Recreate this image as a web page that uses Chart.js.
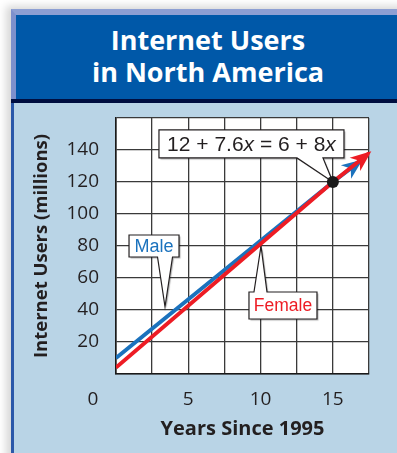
<!DOCTYPE html>
<html>
<head>
<meta charset="utf-8">
<title>Internet Users in North America</title>
<script src="https://cdn.jsdelivr.net/npm/chart.js@4.4.0/dist/chart.umd.min.js"></script>
<style>
  html, body { margin: 0; padding: 0; background: #fff; }
  #page { position: relative; width: 397px; height: 453px; overflow: hidden; background: #fff; }
  #panel { position: absolute; left: 11px; top: 9px; width: 400px; height: 460px;
           box-shadow: -5px -3px 8px rgba(0,0,0,0.16); }
  #head { position: absolute; left: 0; top: 0; width: 400px; height: 90px; box-sizing: border-box;
          background: #0058a8; border-top: 6px solid #8d9fd3; border-left: 5px solid #7e90cc; }
  #rule { position: absolute; left: 0; top: 90px; width: 400px; height: 4px; background: #000e40; }
  #body { position: absolute; left: 0; top: 94px; width: 400px; height: 370px; box-sizing: border-box;
          background: #b9d4e6; border-left: 3px solid #2b58a9; }
  #title { position: absolute; left: 0; top: 24px; width: 416px; text-align: center; color: #fff;
           font: bold 27px/32px "Open Sans", sans-serif; }
  #chart { position: absolute; left: 0; top: 0; }
</style>
</head>
<body>
<div id="page">
  <div id="panel">
    <div id="head"></div>
    <div id="rule"></div>
    <div id="body"></div>
  </div>
  <div id="title">Internet Users<br>in North America</div>
  <canvas id="chart" width="397" height="453"></canvas>
</div>
<script>
// years since 1995 and users (millions) along each line
const maleYears = [0, 15, 16.9];
const maleUsers = [10, 120, 133];
const femaleYears = [0, 15, 17.5];
const femaleUsers = [4, 120, 138];
// where the two lines meet
const meetYears = [15];
const meetUsers = [120];

const xLabelYears = [5, 10, 15];
const yLabelUsers = [20, 40, 60, 80, 100, 120, 140];
const originLabel = '0';

const maleColor = '#1b72bd';
const femaleColor = '#ed1c24';
const ink = '#231f20';
const gridColor = '#3a3a3a';

function points(xs, ys) {
  return xs.map((x, i) => ({ x: x, y: ys[i] }));
}

// callout boxes: centre and tip in data units, sizes in px
const notes = [
  { parts: [['Male', '']], color: maleColor, size: 18,
    at: [2.63, 80], w: 50, h: 22, tip: [3.39, 42], side: 'bottom', baseDx: 11, baseW: 15 },
  { parts: [['Female', '']], color: femaleColor, size: 17.5,
    at: [11.55, 42.8], w: 68, h: 27, tip: [10.03, 80], side: 'top', baseDx: -22.5, baseW: 13 },
  { parts: [['12 + 7.6', ''], ['x', 'italic '], [' = 6 + 8', ''], ['x', 'italic ']], color: ink, size: 21,
    at: [9.37, 143.8], w: 185, h: 28, tip: [15, 120], side: 'bottom', baseDx: 58.5, baseW: 26 }
];

function drawCallout(ctx, n, xs, ys) {
  const cx = xs.getPixelForValue(n.at[0]);
  const cy = ys.getPixelForValue(n.at[1]);
  const tx = xs.getPixelForValue(n.tip[0]);
  const ty = ys.getPixelForValue(n.tip[1]);
  const l = cx - n.w / 2, r = cx + n.w / 2, t = cy - n.h / 2, b = cy + n.h / 2;
  const b0 = cx + n.baseDx - n.baseW / 2, b1 = cx + n.baseDx + n.baseW / 2;
  ctx.save();
  ctx.beginPath();
  if (n.side === 'bottom') {
    ctx.moveTo(l, t); ctx.lineTo(r, t); ctx.lineTo(r, b);
    ctx.lineTo(b1, b); ctx.lineTo(tx, ty); ctx.lineTo(b0, b);
    ctx.lineTo(l, b);
  } else {
    ctx.moveTo(l, t); ctx.lineTo(b0, t); ctx.lineTo(tx, ty); ctx.lineTo(b1, t);
    ctx.lineTo(r, t); ctx.lineTo(r, b); ctx.lineTo(l, b);
  }
  ctx.closePath();
  ctx.shadowColor = 'rgba(0,0,0,0.3)';
  ctx.shadowOffsetX = 1.5;
  ctx.shadowOffsetY = 1.5;
  ctx.shadowBlur = 1;
  ctx.fillStyle = '#fff';
  ctx.fill();
  ctx.shadowColor = 'transparent';
  ctx.strokeStyle = ink;
  ctx.lineWidth = 1.2;
  ctx.stroke();

  ctx.fillStyle = n.color;
  ctx.textBaseline = 'middle';
  ctx.textAlign = 'left';
  const fam = 'px "Liberation Sans", Arial, sans-serif';
  let total = 0;
  n.parts.forEach(p => { ctx.font = p[1] + n.size + fam; total += ctx.measureText(p[0]).width; });
  let x = cx - total / 2;
  n.parts.forEach(p => {
    ctx.font = p[1] + n.size + fam;
    ctx.fillText(p[0], x, cy + 1);
    x += ctx.measureText(p[0]).width;
  });
  ctx.restore();
}

const chartDecor = {
  id: 'chartDecor',
  beforeDraw(chart) {
    const a = chart.chartArea;
    const ctx = chart.ctx;
    ctx.save();
    ctx.fillStyle = '#fff';
    ctx.fillRect(a.left, a.top, a.right - a.left, a.bottom - a.top);
    ctx.restore();
  },
  beforeDatasetsDraw(chart) {
    notes.forEach(n => drawCallout(chart.ctx, n, chart.scales.x, chart.scales.y));
  },
  afterDatasetDraw(chart, args) {
    const ds = chart.data.datasets[args.index];
    if (!ds.arrow) return;
    const pts = args.meta.data;
    const p = pts[pts.length - 1], q = pts[pts.length - 2];
    const ang = Math.atan2(p.y - q.y, p.x - q.x);
    const ctx = chart.ctx;
    ctx.save();
    ctx.translate(p.x, p.y);
    ctx.rotate(ang);
    ctx.fillStyle = ds.borderColor;
    ctx.beginPath();
    ctx.moveTo(3, 0);
    ctx.lineTo(-18, -8.5);
    ctx.lineTo(-12, 0);
    ctx.lineTo(-18, 8.5);
    ctx.closePath();
    ctx.fill();
    ctx.restore();
  },
  afterDraw(chart) {
    const ctx = chart.ctx;
    const xs = chart.scales.x;
    ctx.save();
    ctx.font = tickFont.size + 'px "Open Sans", sans-serif';
    ctx.fillStyle = ink;
    ctx.textAlign = 'center';
    ctx.textBaseline = 'middle';
    ctx.fillText(originLabel, xs.getPixelForValue(0) - 23, chart.chartArea.bottom + 26);
    ctx.restore();
  }
};

const tickFont = { family: '"Open Sans", sans-serif', size: 19 };

new Chart(document.getElementById('chart'), {
  type: 'scatter',
  data: {
    datasets: [
      { label: 'Same', data: points(meetYears, meetUsers), pointRadius: 6,
        backgroundColor: '#1a1a1a', borderWidth: 0, order: 0 },
      { label: 'Female', data: points(femaleYears, femaleUsers), showLine: true, arrow: true,
        borderColor: femaleColor, borderWidth: 4, pointRadius: 0, order: 1 },
      { label: 'Male', data: points(maleYears, maleUsers), showLine: true, arrow: true,
        borderColor: maleColor, borderWidth: 4, pointRadius: 0, order: 2 }
    ]
  },
  options: {
    responsive: false,
    animation: false,
    layout: { padding: { top: 118, right: 28, left: 0, bottom: 0 } },
    plugins: { legend: { display: false }, tooltip: { enabled: false } },
    scales: {
      x: {
        type: 'linear', min: 0, max: 17.5,
        ticks: { stepSize: 2.5, autoSkip: false, maxRotation: 0, padding: 14,
                 font: tickFont, color: ink,
                 callback: v => xLabelYears.includes(v) ? String(v) : '' },
        grid: { color: gridColor, lineWidth: 1.3, drawTicks: false },
        border: { color: '#1a1a1a', width: 1.6 },
        title: { display: true, text: 'Years Since 1995', color: ink,
                 font: { family: '"Open Sans", sans-serif', size: 20, weight: 'bold' },
                 padding: { top: 0, bottom: 12 } },
        afterFit(scale) { scale.height = 79; }
      },
      y: {
        type: 'linear', min: 0, max: 160,
        ticks: { stepSize: 20, autoSkip: false, padding: 17, font: tickFont, color: ink,
                 callback: v => yLabelUsers.includes(v) ? String(v) : '' },
        grid: { color: gridColor, lineWidth: 1.3, drawTicks: false },
        border: { color: '#1a1a1a', width: 1.6 },
        title: { display: true, text: 'Internet Users (millions)', color: ink,
                 font: { family: '"Open Sans", sans-serif', size: 18.5, weight: 'bold' },
                 padding: { top: 31, bottom: 0 } },
        afterFit(scale) { scale.width = 116; }
      }
    }
  },
  plugins: [chartDecor]
});
</script>
</body>
</html>
